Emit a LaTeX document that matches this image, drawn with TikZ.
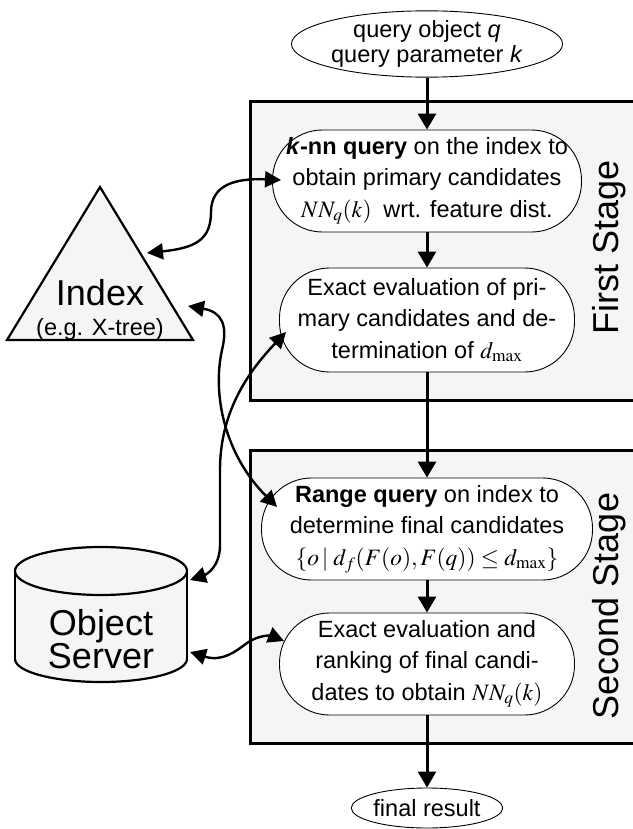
\documentclass[tikz,border=0pt]{standalone}
\usepackage{mathptmx}
\usepackage[no-math]{fontspec}
\setmainfont{Liberation Sans}
\usetikzlibrary{arrows.meta,shapes.geometric}

\begin{document}
\begin{tikzpicture}[x=1pt,y=-1pt,
	txt/.style={font=\fontsize{23.5}{31.5}\selectfont},
	biglabel/.style={font=\fontsize{36}{33}\selectfont},
	stepnode/.style={txt,draw,line width=0.9pt,fill=white,rounded corners=50pt,align=center,inner sep=0pt,minimum height=102pt},
	oval/.style={txt,draw,line width=0.9pt,fill=white,ellipse,align=center,inner sep=0pt},
	stage/.style={draw,fill=black!4,line width=3pt},
	store/.style={draw,fill=black!4,line width=2.2pt},
	flow/.style={line width=3pt,-{Triangle[length=16pt,width=18pt]}},
	link/.style={line width=2.4pt,{Triangle[length=16pt,width=16pt]}-{Triangle[length=16pt,width=16pt]}}]
	\useasboundingbox (0,0) rectangle (632,829);

	% stages
	\draw[stage] (250,102) rectangle (645,400);
	\draw[stage] (250,450) rectangle (645,743);
	\node[biglabel,rotate=90] (first) at (609,247) {First Stage};
	\node[biglabel,rotate=90] (second) at (609,606) {Second Stage};

	% index and object server
	\draw[store] (100,187) -- (193,340) -- (7,340) -- cycle;
	\node[biglabel,anchor=base] (idx) at (100,305) {Index};
	\node[txt,anchor=base] (idxsub) at (100,335) {(e.g. X-tree)};

	\fill[black!4] (15,571) rectangle (187,659);
	\fill[black!4] (101,659) ellipse [x radius=86, y radius=23];
	\begin{scope}
		\clip (0,659) rectangle (200,700);
		\draw[line width=2.2pt] (101,659) ellipse [x radius=86, y radius=23];
	\end{scope}
	\draw[line width=2.2pt] (15,571) -- (15,659);
	\draw[line width=2.2pt] (187,571) -- (187,659);
	\draw[store] (101,571) ellipse [x radius=86, y radius=24];
	\node[biglabel,align=center] (srv) at (101,639) {Object\\Server};

	% steps
	\node[oval,font=\fontsize{23.5}{25}\selectfont,minimum width=247pt,minimum height=58pt] (qin) at (427,44)
		{query object \textit{q}\\query parameter \textit{k}};
	\node[stepnode,minimum width=309pt] (knn) at (427,181)
		{\textbf{\textit{k}-nn query} on the index to\\obtain primary candidates\\$NN_q(k)$\enspace wrt. feature dist.};
	\node[stepnode,minimum width=295pt,minimum height=104pt] (exact1) at (427,320)
		{Exact evaluation of pri-\\mary candidates and de-\\termination of $d_{\max}$};
	\node[stepnode,minimum width=331pt] (range) at (427,529)
		{\textbf{Range query} on index to\\determine final candidates\\$\{o\,|\;d_f(F(o),F(q))\le d_{\max}\}$};
	\node[stepnode,minimum width=295pt] (exact2) at (427,664)
		{Exact evaluation and\\ranking of final candi-\\dates to obtain $NN_q(k)$};
	\node[oval,minimum width=140pt,minimum height=40pt] (final) at (427,808) {final result};

	\draw[flow] (qin) -- (knn);
	\draw[flow] (knn) -- (exact1);
	\draw[flow] (exact1) -- (range);
	\draw[flow] (range) -- (exact2);
	\draw[flow] (exact2) -- (final);

	% links to index and server
	\coordinate (idxa) at (147,253);
	\coordinate (idxb) at (188,306);
	\coordinate (srva) at (190,580);
	\coordinate (srvb) at (190,652);
	\draw[link] (idxa) .. controls (195,248) and (211,240) .. (211,212)
		.. controls (211,185) and (235,178) .. ([shift={(9,-1)}]knn.west);
	\draw[link] (idxb) .. controls (222,312) and (228,325) .. (222,350)
		.. controls (212,395) and (225,455) .. ([shift={(16,-22)}]range.west);
	\draw[link] ([shift={(7,12)}]exact1.west) .. controls (245,375) and (220,415) .. (220,470)
		-- (220,545) .. controls (220,568) and (205,575) .. (srva);
	\draw[link] (srvb) .. controls (222,662) and (235,652) .. (247,643)
		.. controls (260,634) and (272,636) .. ([shift={(5,-23)}]exact2.west);
\end{tikzpicture}
\end{document}
